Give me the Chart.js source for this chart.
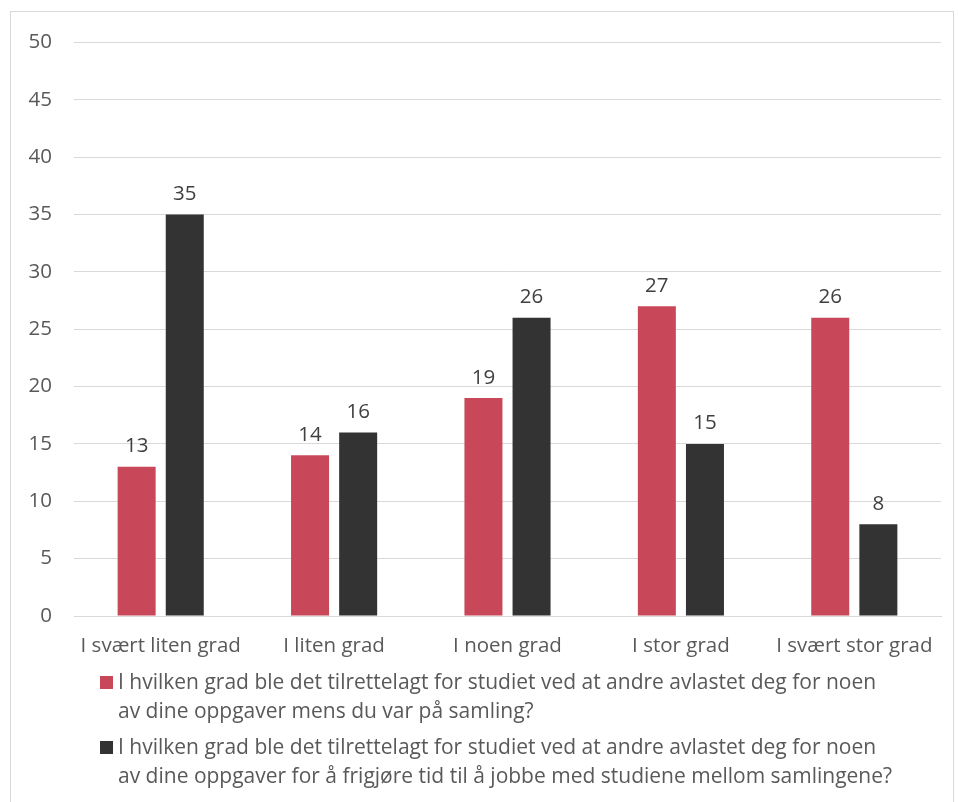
<!DOCTYPE html>
<html>
<head>
<meta charset="utf-8">
<script src="https://cdn.jsdelivr.net/npm/chart.js@4.4.0/dist/chart.umd.min.js"></script>
<style>
  body { margin: 0; background: #fff; font-family: "Open Sans", sans-serif; }
  #box { position: absolute; left: 10px; top: 11px; width: 944px; height: 800px; border: 1px solid #d9d9d9; box-sizing: border-box; }
  #wrap { position: absolute; left: 0; top: -4px; width: 943px; height: 664px; }
  #legend { position: absolute; left: 89px; top: 655px; width: 850px; color: #595959; font-size: 21px; line-height: 29px; white-space: nowrap; }
  .item { position: relative; padding-left: 18px; margin-bottom: 7px; }
  .sw { position: absolute; left: 0; top: 9px; width: 13px; height: 13px; }
</style>
</head>
<body>
<div id="box">
  <div id="wrap"><canvas id="barChart"></canvas></div>
  <div id="legend"></div>
</div>
<script>
const categories = ['I svært liten grad', 'I liten grad', 'I noen grad', 'I stor grad', 'I svært stor grad'];
const seriesNames = [
  ['I hvilken grad ble det tilrettelagt for studiet ved at andre avlastet deg for noen', 'av dine oppgaver mens du var på samling?'],
  ['I hvilken grad ble det tilrettelagt for studiet ved at andre avlastet deg for noen', 'av dine oppgaver for å frigjøre tid til å jobbe med studiene mellom samlingene?']
];
const duringGathering = [13, 14, 19, 27, 26];
const betweenGatherings = [35, 16, 26, 15, 8];
const yTicks = [0, 50, 5];

const colors = ['#c8485a', '#333333'];

const valueLabels = {
  id: 'valueLabels',
  afterDatasetsDraw(chart) {
    const ctx = chart.ctx;
    ctx.save();
    ctx.font = '20.5px "Open Sans"';
    ctx.fillStyle = '#404040';
    ctx.textAlign = 'center';
    ctx.textBaseline = 'bottom';
    chart.data.datasets.forEach((ds, i) => {
      chart.getDatasetMeta(i).data.forEach((bar, j) => {
        ctx.fillText(ds.data[j], bar.x, bar.y - 10);
      });
    });
    ctx.restore();
  }
};

const ctxBar = document.getElementById('barChart').getContext('2d');
const chart = new Chart(ctxBar, {
  type: 'bar',
  data: {
    labels: categories,
    datasets: [{
      label: seriesNames[0].join(' '),
      data: duringGathering,
      backgroundColor: colors[0],
      categoryPercentage: 0.555,
      barPercentage: 0.79
    }, {
      label: seriesNames[1].join(' '),
      data: betweenGatherings,
      backgroundColor: colors[1],
      categoryPercentage: 0.555,
      barPercentage: 0.79
    }]
  },
  options: {
    responsive: true,
    maintainAspectRatio: false,
    animation: false,
    layout: { padding: { top: 26, right: 13, left: 0, bottom: 0 } },
    plugins: { legend: { display: false }, tooltip: { enabled: false } },
    scales: {
      x: {
        grid: { display: false },
        border: { color: '#d9d9d9' },
        ticks: { color: '#595959', font: { family: 'Open Sans', size: 20.5 }, padding: 10, maxRotation: 0 },
        afterFit: s => { s.height = 56; }
      },
      y: {
        min: yTicks[0],
        max: yTicks[1],
        ticks: { stepSize: yTicks[2], color: '#595959', font: { family: 'Open Sans', size: 20.5 }, padding: 22 },
        grid: { color: '#d9d9d9', drawTicks: false },
        border: { display: false },
        afterFit: s => { s.width = 63; }
      }
    }
  },
  plugins: [valueLabels]
});

const legend = document.getElementById('legend');
seriesNames.forEach((lines, i) => {
  const div = document.createElement('div');
  div.className = 'item';
  div.innerHTML = '<span class="sw" style="background:' + colors[i] + '"></span>' + lines.join('<br>');
  legend.appendChild(div);
});
</script>
</body>
</html>
